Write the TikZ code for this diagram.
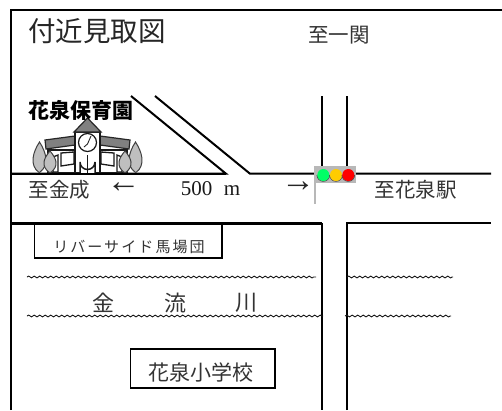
\documentclass[tikz,border=0pt]{standalone}
\usepackage{fontspec}
\usetikzlibrary{decorations.pathmorphing}
\setmainfont{Liberation Serif}
\newfontfamily\cjk{Noto Sans CJK JP}
\newfontfamily\cjkw[LetterSpace=14]{Noto Sans CJK JP}
\definecolor{signalgreen}{RGB}{0,255,102}
\definecolor{signalyellow}{RGB}{255,204,0}
\definecolor{signalred}{RGB}{255,0,0}
\tikzset{
  road/.style={draw=black,line width=2pt,line join=miter},
  thinroad/.style={draw=black,line width=2pt,line join=miter},
  thickroad/.style={draw=black,line width=2.6pt},
  river/.style={draw=black!90,line width=.9pt,decorate,decoration={snake,amplitude=.9pt,segment length=5.5pt}},
  label/.style={inner sep=0pt,text=black!80,font=\cjk\fontsize{20.5}{20}\selectfont},
  sign/.style={draw=black,line width=1.7pt,fill=white,inner sep=0pt},
  wall/.style={draw=black!90,line width=1.3pt,fill=white},
  roof/.style={draw=black!85,line width=1.2pt,fill=black!50},
  tree/.style={draw=black!75,line width=1pt,fill=black!25},
  lamp/.style={circle,minimum size=12pt,inner sep=0pt},
  arrowtext/.style={inner sep=0pt,text=black!85,font=\fontsize{34}{34}\selectfont}
}
\begin{document}
\begin{tikzpicture}[x=1pt,y=-1pt]
\useasboundingbox (0,0) rectangle (502,410);
% frame
\coordinate (fTL) at (11,10.3);
\coordinate (fTR) at (502,10.3);
\coordinate (fBL) at (11,410);
\draw[road] (fBL) -- (fTL) -- (fTR);
% upper road
\coordinate (rA) at (11,173.7);
\coordinate (rB) at (226,173.7);
\coordinate (rC) at (250,173.7);
\coordinate (rD) at (491,173.7);
\coordinate (dA) at (131,96);
\coordinate (dB) at (155,96);
\draw[road] (rA) -- (rB) -- (dA);
\draw[road] (dB) -- (rC) -- (rD);
% north road
\coordinate (nA) at (322.3,96);
\coordinate (nB) at (346.5,96);
\coordinate (nC) at (322.3,170);
\coordinate (nD) at (346.5,170);
\draw[thinroad] (nA) -- (nC);
\draw[thinroad] (nB) -- (nD);
% lower roads
\coordinate (lA) at (11,223.3);
\coordinate (lB) at (322.3,223.3);
\coordinate (lC) at (322.3,410);
\coordinate (lD) at (347,410);
\coordinate (lE) at (347,223.3);
\coordinate (lF) at (491,223.3);
\draw[thickroad] (lA) -- (lB);
\draw[thinroad] (lB) -- (lC);
\draw[thinroad] (lD) -- (lE) -- (lF);
% river
\coordinate (wA) at (27,277);
\coordinate (wB) at (316,277);
\coordinate (wC) at (347,277);
\coordinate (wD) at (453,277);
\coordinate (wE) at (27,316);
\coordinate (wF) at (323,316);
\coordinate (wG) at (345,316);
\coordinate (wH) at (451,316);
\draw[river] (wA) -- (wB);
\draw[river] (wC) -- (wD);
\draw[river] (wE) -- (wF);
\draw[river] (wG) -- (wH);
% signal
\fill[black!28] (314,166) rectangle (356,183);
\draw[black!28,line width=1.2pt] (315,183) -- (315,204);
\foreach \px/\c in {323.3/signalgreen,336/signalyellow,348.3/signalred}{
  \draw[black!70,line width=.8pt] (\px-6.3,175) arc[start angle=180,end angle=0,radius=6.3];
  \node[lamp,fill=\c] at (\px,175) {};
}
% school building
\begin{scope}
\draw[tree] (39,172.5) .. controls (29,165) and (33,152) .. (39.5,142) .. controls (46,152) and (50,165) .. (39.5,172.5) -- cycle;
\draw[tree] (136,172.5) .. controls (146,165) and (142,152) .. (135.5,142) .. controls (129,152) and (125,165) .. (135.5,172.5) -- cycle;
\draw[wall] (48,150) -- (127,150) -- (127,173) -- (48,173) -- cycle;
\draw[wall] (61,153) -- (74,152) -- (74,164) -- (61,166) -- cycle;
\draw[wall] (101,152) -- (114,153) -- (114,166) -- (101,164) -- cycle;
\draw[wall] (53,157) -- (58,155) -- (58,172) -- (53,172) -- cycle;
\draw[wall] (117,155) -- (122,157) -- (122,172) -- (117,172) -- cycle;
\draw[tree] (50,173) .. controls (40,166) and (44,158) .. (50,151) .. controls (56,158) and (60,166) .. (50,173) -- cycle;
\draw[tree] (125,173) .. controls (135,166) and (131,158) .. (125,151) .. controls (119,158) and (115,166) .. (125,173) -- cycle;
\draw[roof] (45,140) -- (75,136) -- (75,145) -- (46,149) -- cycle;
\draw[roof] (130,140) -- (100,136) -- (100,145) -- (129,149) -- cycle;
\draw[wall,line width=1.5pt] (75,132) rectangle (100,173);
\draw[roof] (87.5,118) -- (101,132) -- (74,132) -- cycle;
\draw[draw=black!90,line width=1.2pt,fill=white] (87.5,142.5) circle[radius=9];
\draw[black!85,line width=.9pt] (87.5,144) -- (91,136) (87.5,144) -- (84,147);
\draw[wall,line width=1.5pt] (80,173) -- (80,162) arc[start angle=180,end angle=0,radius=7.5] -- (95,173);
\draw[black!90,line width=1.2pt] (87.5,155) -- (87.5,173);
\end{scope}
\draw[road] (rA) -- (rB);
% texts
\node[label,font=\cjk\fontsize{27.5}{28}\selectfont,text=black!85] (title) at (97,31) {付近見取図};
\node[label] (ichinoseki) at (339,35) {至一関};
\node[label,font=\cjk\bfseries\fontsize{21}{21}\selectfont,text=black] (hoikuen) at (80.5,110) {花泉保育園};
\node[label] (kanenari) at (59.5,190) {至金成};
\node[arrowtext] (arrL) at (123.5,187.5) {←};
\node[inner sep=0pt,text=black!90,font=\fontsize{21}{21}\selectfont] (dist) at (210.5,189) {500\hspace{.55em}m};
\node[arrowtext] (arrR) at (298,187) {→};
\node[label] (hanaizumi) at (415.5,190) {至花泉駅};
\node[sign,minimum width=187.5pt,minimum height=34pt] (riverside) at (128.25,241) {};
\node[inner sep=0pt,text=black!80,font=\cjkw\fontsize{15}{15}\selectfont] at (129,247) {リバーサイド馬場団};
\node[label,font=\cjk\fontsize{22}{22}\selectfont] (kin) at (103,303) {金};
\node[label,font=\cjk\fontsize{22}{22}\selectfont] (ryu) at (175,303) {流};
\node[label,font=\cjk\fontsize{22}{22}\selectfont] (sen) at (246,303) {川};
\node[sign,minimum width=144.5pt,minimum height=39pt] (schoolbox) at (202.75,368.5) {};
\node[label,font=\cjk\fontsize{21}{21}\selectfont] (school) at (201,372) {花泉小学校};
\end{tikzpicture}
\end{document}
